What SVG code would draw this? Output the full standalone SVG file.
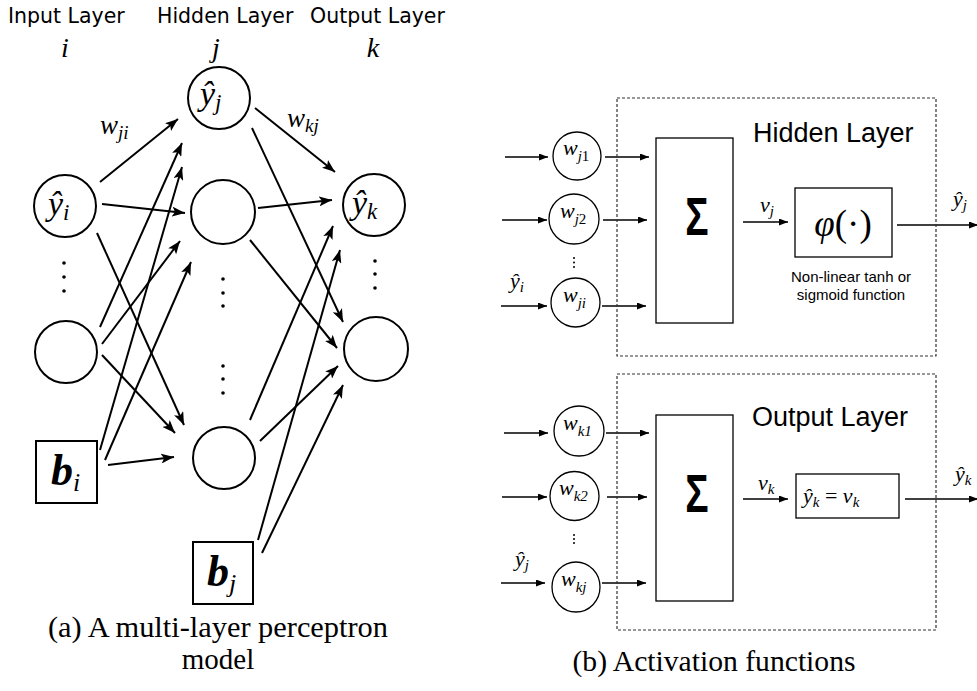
<svg xmlns="http://www.w3.org/2000/svg" width="977" height="691" viewBox="0 0 977 691">
<style>
.nd{fill:#fff;stroke:#000;stroke-width:2}
.ndr{fill:#fff;stroke:#000;stroke-width:1.3}
.e{stroke:#000;stroke-width:2;fill:none}
.er{stroke:#000;stroke-width:1.5;fill:none}
.ttl{font-family:"DejaVu Sans",sans-serif;font-size:20.5px}
.m{font-family:"Liberation Serif",serif;font-style:italic}
.cap{font-family:"Liberation Serif",serif;font-size:29px}
.cal{font-family:"Liberation Sans",sans-serif}
.dash{fill:none;stroke:#333;stroke-width:1.2;stroke-dasharray:3,2}
</style>
<defs>
<marker id="ah" markerUnits="userSpaceOnUse" markerWidth="14" markerHeight="10" refX="13" refY="5" orient="auto">
<path d="M0,0 L13,5 L0,10 L3,5 z" fill="#000"/>
</marker>
<marker id="as" markerUnits="userSpaceOnUse" markerWidth="10" markerHeight="8" refX="9" refY="3.5" orient="auto">
<path d="M0,0 L9,3.5 L0,7 z" fill="#000"/>
</marker>
</defs>

<!-- left titles -->
<text class="ttl" x="8" y="23">Input Layer</text>
<text class="ttl" x="157" y="23">Hidden Layer</text>
<text class="ttl" x="310" y="23">Output Layer</text>
<text class="m" x="65" y="57" font-size="28" text-anchor="middle">i</text>
<text class="m" x="216" y="57" font-size="28" text-anchor="middle">j</text>
<text class="m" x="373" y="57" font-size="28" text-anchor="middle">k</text>

<!-- connectors -->
<g id="connectors">
<g marker-end="url(#ah)">
<line class="e" x1="100" y1="182" x2="178" y2="119"/>
<line class="e" x1="102" y1="204" x2="185" y2="213"/>
<line class="e" x1="97" y1="233" x2="184" y2="425"/>
<line class="e" x1="100" y1="327" x2="182" y2="143"/>
<line class="e" x1="102" y1="344" x2="180" y2="241"/>
<line class="e" x1="102" y1="355" x2="175" y2="433"/>
<line class="e" x1="100" y1="450" x2="182" y2="167"/>
<line class="e" x1="105" y1="460" x2="191" y2="262"/>
<line class="e" x1="108" y1="465" x2="174" y2="457"/>
<line class="e" x1="255" y1="108" x2="335" y2="172"/>
<line class="e" x1="252" y1="128" x2="343" y2="322"/>
<line class="e" x1="258" y1="208" x2="332" y2="200"/>
<line class="e" x1="250" y1="240" x2="337" y2="348"/>
<line class="e" x1="250" y1="420" x2="333" y2="226"/>
<line class="e" x1="260" y1="441" x2="338" y2="366"/>
<line class="e" x1="258" y1="540" x2="340" y2="250"/>
<line class="e" x1="262" y1="553" x2="343" y2="385"/>
</g>
<g marker-end="url(#as)">
<line class="er" x1="505" y1="157" x2="548" y2="157"/>
<line class="er" x1="605" y1="157" x2="649" y2="157"/>
<line class="er" x1="502" y1="220" x2="547" y2="220"/>
<line class="er" x1="603" y1="220" x2="647" y2="220"/>
<line class="er" x1="501" y1="306" x2="547" y2="306"/>
<line class="er" x1="602" y1="306" x2="646" y2="306"/>
<line class="er" x1="743" y1="222" x2="788" y2="222"/>
<line class="er" x1="897" y1="225" x2="978" y2="225"/>
<line class="er" x1="504" y1="433" x2="548" y2="433"/>
<line class="er" x1="606" y1="433" x2="649" y2="433"/>
<line class="er" x1="502" y1="497" x2="547" y2="497"/>
<line class="er" x1="607" y1="497" x2="647" y2="497"/>
<line class="er" x1="501" y1="583" x2="545" y2="583"/>
<line class="er" x1="602" y1="583" x2="646" y2="583"/>
<line class="er" x1="743" y1="499" x2="788" y2="499"/>
<line class="er" x1="905" y1="499" x2="978" y2="499"/>
</g>
</g>

<text class="m" x="100" y="134" font-size="27">w<tspan font-size="19" dy="5">ji</tspan></text>
<text class="m" x="287" y="127" font-size="27">w<tspan font-size="19" dy="5">kj</tspan></text>

<!-- left nodes -->
<g id="in-yi"><circle class="nd" cx="65" cy="206" r="31"/><text class="m" x="48" y="215" font-size="34">ŷ<tspan font-size="23" dy="5">i</tspan></text></g>
<g id="in-dots" fill="#000"><circle cx="64" cy="263" r="1.8"/><circle cx="64" cy="277" r="1.8"/><circle cx="64" cy="291" r="1.8"/></g>
<g id="in-2"><circle class="nd" cx="66" cy="352" r="31"/></g>
<g id="in-bi"><rect class="nd" x="36" y="441" width="61" height="62"/><text class="m" x="51" y="485" font-size="44" font-weight="bold">b<tspan font-size="26" font-weight="normal" dy="6">i</tspan></text></g>

<g id="hid-yj"><circle class="nd" cx="219" cy="98" r="31"/><text class="m" x="200" y="105" font-size="34">ŷ<tspan font-size="23" dy="5">j</tspan></text></g>
<g id="hid-2"><circle class="nd" cx="223" cy="212" r="32"/></g>
<g id="hid-dots" fill="#000"><circle cx="223" cy="279" r="1.8"/><circle cx="223" cy="293" r="1.8"/><circle cx="223" cy="306" r="1.8"/><circle cx="223" cy="366" r="1.8"/><circle cx="223" cy="379" r="1.8"/><circle cx="223" cy="393" r="1.8"/></g>
<g id="hid-3"><circle class="nd" cx="224" cy="458" r="31"/></g>
<g id="hid-bj"><rect class="nd" x="193" y="542" width="60" height="62"/><text class="m" x="207" y="586" font-size="44" font-weight="bold">b<tspan font-size="26" font-weight="normal" dy="6">j</tspan></text></g>

<g id="out-yk"><circle class="nd" cx="374" cy="205" r="31"/><text class="m" x="352" y="214" font-size="34">ŷ<tspan font-size="23" dy="5">k</tspan></text></g>
<g id="out-dots" fill="#000"><circle cx="375" cy="261" r="1.8"/><circle cx="375" cy="274" r="1.8"/><circle cx="375" cy="288" r="1.8"/></g>
<g id="out-2"><circle class="nd" cx="376" cy="349" r="32"/></g>

<!-- captions -->
<text class="cap" x="218" y="637" text-anchor="middle" textLength="340" lengthAdjust="spacingAndGlyphs">(a) A multi-layer perceptron</text>
<text class="cap" x="218" y="669" text-anchor="middle">model</text>
<text class="cap" x="714" y="671" text-anchor="middle" textLength="283" lengthAdjust="spacingAndGlyphs">(b) Activation functions</text>

<!-- right: hidden layer -->
<g id="hidden-box">
<rect class="dash" x="617" y="98" width="319" height="258"/>
<text class="cal" x="753" y="142" font-size="27">Hidden Layer</text>
</g>
<g id="wj1"><circle class="ndr" cx="577" cy="156" r="24"/><text class="m" x="563" y="155" font-size="22">w<tspan font-size="15" dy="6">j</tspan><tspan font-size="15" font-style="normal">1</tspan></text></g>
<g id="wj2"><circle class="ndr" cx="574" cy="219" r="25"/><text class="m" x="560" y="218" font-size="22">w<tspan font-size="15" dy="6">j</tspan><tspan font-size="15" font-style="normal">2</tspan></text></g>
<g fill="#000"><circle cx="574" cy="258" r="1"/><circle cx="574" cy="262.5" r="1"/><circle cx="574" cy="267" r="1"/></g>
<text class="m" x="510" y="288" font-size="22">ŷ<tspan font-size="15" dy="4">i</tspan></text>
<g id="wji"><circle class="ndr" cx="575.5" cy="302.5" r="24.5"/><text class="m" x="563" y="302" font-size="22">w<tspan font-size="15" dy="6">ji</tspan></text></g>
<g id="sum1"><rect class="ndr" x="656" y="138" width="77" height="185"/><text class="cal" font-size="54" font-weight="bold" text-anchor="middle" transform="translate(697,235) scale(0.72,1)">Σ</text></g>
<text class="m" x="760" y="212" font-size="22">v<tspan font-size="15" dy="4">j</tspan></text>
<g id="phi"><rect class="ndr" x="795" y="188" width="97" height="69"/><text class="m" x="843" y="236" font-size="37" text-anchor="middle">φ<tspan font-style="normal">(·)</tspan></text></g>
<text class="cal" x="851" y="282" font-size="15" text-anchor="middle">Non-linear tanh or</text>
<text class="cal" x="851" y="300" font-size="15" text-anchor="middle">sigmoid function</text>
<text class="m" x="953" y="206" font-size="22">ŷ<tspan font-size="15" dy="4">j</tspan></text>

<!-- right: output layer -->
<g id="output-box">
<rect class="dash" x="617" y="374" width="319" height="256"/>
<text class="cal" x="752" y="426" font-size="27">Output Layer</text>
</g>
<g id="wk1"><circle class="ndr" cx="579" cy="431" r="25"/><text class="m" x="563" y="430" font-size="22">w<tspan font-size="15" dy="6">k1</tspan></text></g>
<g id="wk2"><circle class="ndr" cx="574.5" cy="496" r="24.5"/><text class="m" x="559" y="495" font-size="22">w<tspan font-size="15" dy="6">k2</tspan></text></g>
<g fill="#000"><circle cx="574" cy="535" r="1"/><circle cx="574" cy="539" r="1"/><circle cx="574" cy="543" r="1"/></g>
<text class="m" x="515" y="566" font-size="22">ŷ<tspan font-size="15" dy="4">j</tspan></text>
<g id="wkj"><ellipse class="ndr" cx="576" cy="587" rx="24" ry="25"/><text class="m" x="561" y="586" font-size="22">w<tspan font-size="15" dy="6">kj</tspan></text></g>
<g id="sum2"><rect class="ndr" x="656" y="415" width="77" height="186"/><text class="cal" font-size="54" font-weight="bold" text-anchor="middle" transform="translate(697,512) scale(0.72,1)">Σ</text></g>
<text class="m" x="758" y="490" font-size="22">v<tspan font-size="15" dy="4">k</tspan></text>
<g id="lin"><rect class="ndr" x="796" y="474" width="103" height="44"/><text class="m" x="803" y="503" font-size="22">ŷ<tspan font-size="15" dy="4">k</tspan><tspan dy="-4" font-style="normal"> = </tspan>v<tspan font-size="15" dy="4">k</tspan></text></g>
<text class="m" x="955" y="481" font-size="22">ŷ<tspan font-size="15" dy="4">k</tspan></text>
</svg>
